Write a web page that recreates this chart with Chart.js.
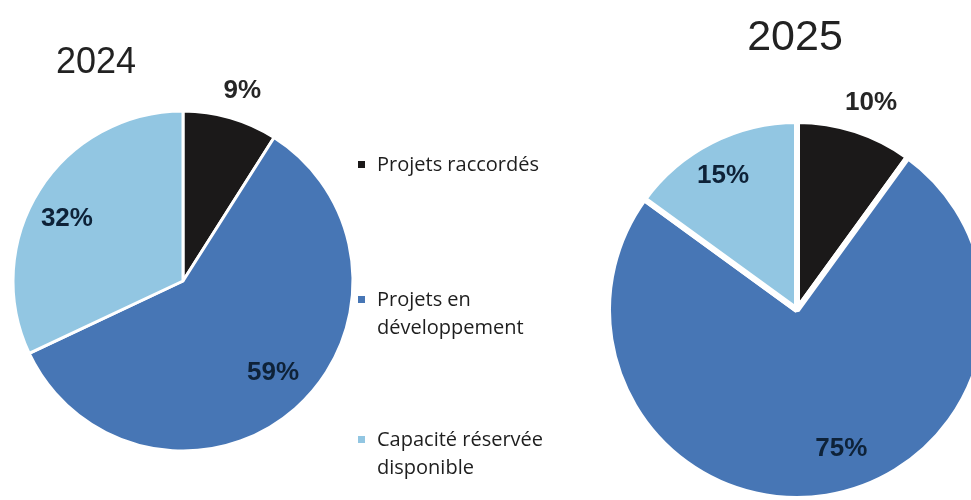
<!DOCTYPE html>
<html lang="fr">
<head>
<meta charset="utf-8">
<script src="https://cdn.jsdelivr.net/npm/chart.js@4.4.1/dist/chart.umd.min.js"></script>
<style>
  body { margin: 0; background: #fff; }
  #wrap { position: relative; width: 971px; height: 500px; overflow: hidden; }
  canvas { position: absolute; left: 0; top: 0; }
  .legend-item { position: absolute; left: 377px; width: 200px; font: 20px "Open Sans", sans-serif; line-height: 28px; color: #1e1e1e; }
  .legend-item .box { position: absolute; left: -19px; top: 11px; width: 7px; height: 7px; }
</style>
</head>
<body>
<div id="wrap">
  <canvas id="pie2024" width="971" height="500"></canvas>
  <canvas id="pie2025" width="971" height="500"></canvas>
  <div id="legend"></div>
</div>
<script>
// data
const categories = ['Projets raccordés', 'Projets en développement', 'Capacité réservée disponible'];
const values2024 = [9, 59, 32];
const values2025 = [10, 75, 15];
const years = ['2024', '2025'];

const colors = ['#1b1919', '#4776b5', '#92c6e2'];
const legendTops = [150, 285, 425];

// percent labels + year title, drawn on top of the slices
const sliceLabels = {
    id: 'sliceLabels',
    afterDatasetsDraw(chart, args, opts) {
        const ctx = chart.ctx;
        const meta = chart.getDatasetMeta(0);
        const data = chart.data.datasets[0].data;
        ctx.save();
        ctx.textAlign = 'center';
        ctx.textBaseline = 'alphabetic';
        ctx.font = 'bold 26px "Liberation Sans", Arial, sans-serif';
        meta.data.forEach((arc, i) => {
            const p = arc.getProps(['x', 'y', 'startAngle', 'endAngle', 'outerRadius'], true);
            const mid = (p.startAngle + p.endAngle) / 2 + opts.turn[i] * Math.PI / 180;
            const d = p.outerRadius * opts.dist[i];
            ctx.fillStyle = opts.dist[i] > 1 ? '#262626' : '#0e2238';
            ctx.fillText(data[i] + '%', p.x + Math.cos(mid) * d, p.y + Math.sin(mid) * d + 9);
        });
        ctx.font = opts.titleSize + 'px "Liberation Sans", Arial, sans-serif';
        ctx.fillStyle = '#222';
        ctx.fillText(opts.title, opts.titleX, opts.titleY);
        ctx.restore();
    }
};

function makePie(id, values, radius, border, padding, labelPos, title) {
    return new Chart(document.getElementById(id), {
        type: 'pie',
        data: {
            labels: categories,
            datasets: [{
                data: values,
                backgroundColor: colors,
                borderColor: '#ffffff',
                borderWidth: border,
                radius: radius
            }]
        },
        options: {
            responsive: false,
            animation: false,
            layout: { padding: padding },
            plugins: {
                legend: { display: false },
                tooltip: { enabled: false },
                sliceLabels: Object.assign({ title }, labelPos)
            }
        },
        plugins: [sliceLabels]
    });
}

makePie('pie2024', values2024, 170, 3, { left: 0, right: 605, top: 62, bottom: 0 },
    { dist: [1.18, 0.75, 0.78], turn: [1, -3.5, -3.5], titleX: 96, titleY: 73, titleSize: 36 }, years[0]);
makePie('pie2025', values2025, 189, 6, { left: 623, right: 0, top: 120, bottom: 0 },
    { dist: [1.175, 0.76, 0.82], turn: [1.5, -9, -1.5], titleX: 795, titleY: 50, titleSize: 43 }, years[1]);

// legend (HTML so the long labels can wrap)
const legend = document.getElementById('legend');
categories.forEach((name, i) => {
    const item = document.createElement('div');
    item.className = 'legend-item';
    item.style.top = legendTops[i] + 'px';
    item.innerHTML = '<span class="box" style="background:' + colors[i] + '"></span>' + name;
    legend.appendChild(item);
});
</script>
</body>
</html>
